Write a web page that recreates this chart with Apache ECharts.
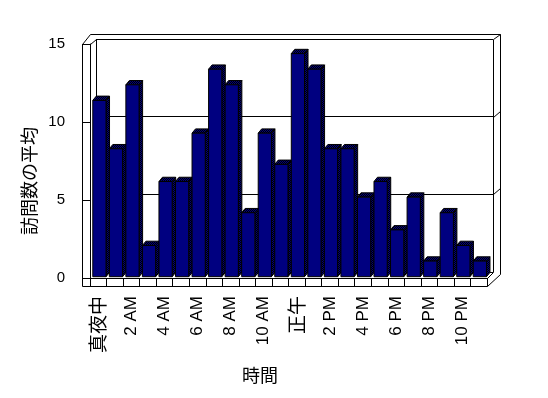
<!DOCTYPE html>
<html><head><meta charset="utf-8">
<script src="https://cdn.jsdelivr.net/npm/echarts@6/dist/echarts.min.js"></script>
<style>html,body{margin:0;padding:0;background:#fff}#c{width:548px;height:398px}</style>
</head><body><div id="c"></div>
<script>
const hours = ['真夜中','1 AM','2 AM','3 AM','4 AM','5 AM','6 AM','7 AM','8 AM','9 AM','10 AM','11 AM',
               '正午','1 PM','2 PM','3 PM','4 PM','5 PM','6 PM','7 PM','8 PM','9 PM','10 PM','11 PM'];
const visits = [11.3, 8.2, 12.3, 2.0, 6.1, 6.1, 9.2, 13.3, 12.3, 4.1, 9.2, 7.2,
                14.3, 13.3, 8.2, 8.2, 5.1, 6.1, 3.0, 5.1, 1.0, 4.1, 2.0, 1.0];
const yTicks = [0, 5, 10, 15];
const yTitle = '訪問数の平均';
const xTitle = '時間';

const FONT = '"Liberation Sans", "Noto Sans CJK JP", sans-serif';

function dither() {
  const c = document.createElement('canvas');
  c.width = 2; c.height = 2;
  const g = c.getContext('2d');
  g.fillStyle = '#000080'; g.fillRect(0, 0, 2, 2);
  g.fillStyle = '#000000'; g.fillRect(0, 0, 1, 1); g.fillRect(1, 1, 1, 1);
  return c;
}
const darkFill = { image: dither(), repeat: 'repeat' };

const chart = echarts.init(document.getElementById('c'), null, { renderer: 'canvas' });

const DX = 3.5, DY = -4.3, OFF = 1.3;

function renderBar(params, api) {
  const i = api.value(0), v = api.value(1);
  const top = api.coord([i, v]);
  const base = api.coord([i, 0]);
  const bw = api.size([1, 0])[0];
  const x1 = top[0] - bw / 2 + bw * 0.09 + OFF;
  const x2 = x1 + bw * 0.8;
  const yt = top[1] - OFF, yb = base[1] - OFF;
  const stroke = { stroke: '#000', lineWidth: 1 };
  return {
    type: 'group',
    children: [
      { type: 'polygon', shape: { points: [[x2, yt], [x2 + DX, yt + DY], [x2 + DX, yb + DY], [x2, yb]] },
        style: Object.assign({ fill: darkFill }, stroke) },
      { type: 'polygon', shape: { points: [[x1, yt], [x1 + DX, yt + DY], [x2 + DX, yt + DY], [x2, yt]] },
        style: Object.assign({ fill: darkFill }, stroke) },
      { type: 'rect', shape: { x: x1, y: yt, width: x2 - x1, height: yb - yt },
        style: Object.assign({ fill: '#000080' }, stroke) }
    ]
  };
}

function ln(x1, y1, x2, y2) {
  return { type: 'line', silent: true, z: 1,
    shape: { x1: x1 + 0.5, y1: y1 + 0.5, x2: x2 + 0.5, y2: y2 + 0.5 },
    style: { stroke: '#000', lineWidth: 1 } };
}

chart.setOption({
  backgroundColor: '#fff',
  animation: false,
  grid: [
    { left: 90, right: 61, top: 44, bottom: 120 },
    { left: 96, right: 55, top: 39, bottom: 126 }
  ],
  xAxis: [
    { type: 'category', data: hours, gridIndex: 0, boundaryGap: true,
      axisLine: { show: true, lineStyle: { color: '#000', width: 1 } },
      axisTick: { show: true, interval: 0, length: 8, lineStyle: { color: '#000' } },
      axisLabel: { interval: 1, rotate: 90, margin: 18, color: '#000', fontSize: 17, fontFamily: FONT,
        formatter: function (v) { return /[^\x00-\x7F]/.test(v) ? '{c|' + v + '}' : v; },
        rich: { c: { fontSize: 19, fontFamily: '"Noto Sans CJK JP", sans-serif', color: '#000' } } },
      splitLine: { show: false } },
    { type: 'category', data: hours, gridIndex: 1, show: false }
  ],
  yAxis: [
    { type: 'value', gridIndex: 0, min: yTicks[0], max: yTicks[yTicks.length - 1], interval: 5,
      axisLine: { show: true, lineStyle: { color: '#000', width: 1 } },
      axisTick: { show: true, length: 8, lineStyle: { color: '#000' } },
      axisLabel: { margin: 25, color: '#000', fontSize: 15, fontFamily: FONT },
      splitLine: { show: false } },
    { type: 'value', gridIndex: 1, min: yTicks[0], max: yTicks[yTicks.length - 1], interval: 5,
      axisLine: { show: false }, axisTick: { show: false }, axisLabel: { show: false },
      splitLine: { show: true, lineStyle: { color: '#000', width: 1 } } }
  ],
  series: [
    { type: 'custom', xAxisIndex: 0, yAxisIndex: 0, z: 5,
      renderItem: renderBar,
      data: visits.map((v, i) => [i, v]) }
  ],
  graphic: [
    ln(82, 44, 82, 286),
    ln(82, 286, 487, 286),
    ln(82, 44, 90, 44),
    ln(82, 44, 90, 34),
    ln(90, 34, 500, 34),
    ln(90, 44, 96, 39),
    ln(96, 39, 96, 272),
    ln(493, 39, 493, 272),
    ln(493, 39, 500, 34),
    ln(500, 34, 500, 274),
    ln(493, 117, 500, 111),
    ln(493, 194, 500, 188),
    ln(487, 278, 487, 286),
    ln(487, 286, 500, 274),
    ln(487, 278, 493, 272),
    { type: 'text', left: 20, top: 127, rotation: Math.PI / 2, silent: true,
      style: { text: yTitle, fill: '#000', font: '18px "Noto Sans CJK JP", sans-serif' } },
    { type: 'text', left: 242, top: 366, silent: true,
      style: { text: xTitle, fill: '#000', font: '18px "Noto Sans CJK JP", sans-serif' } }
  ]
});
</script></body></html>
